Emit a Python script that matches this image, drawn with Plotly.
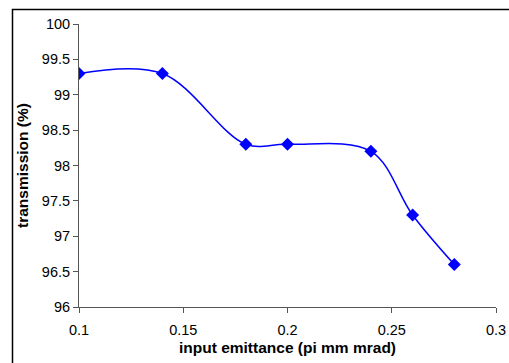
import plotly.graph_objects as go

# Transmission measured against input emittance
emittance = [0.10, 0.14, 0.18, 0.20, 0.24, 0.26, 0.28]
transmission = [99.3, 99.3, 98.3, 98.3, 98.2, 97.3, 96.6]

x_ticks = [0.1, 0.15, 0.2, 0.25, 0.3]
x_tick_text = ["0.1", "0.15", "0.2", "0.25", "0.3"]
y_ticks = [96, 96.5, 97, 97.5, 98, 98.5, 99, 99.5, 100]
y_tick_text = ["96", "96.5", "97", "97.5", "98", "98.5", "99", "99.5", "100"]

W, H = 509, 363
ml, mr, mt, mb = 79, 13, 24, 56
pw, ph = W - ml - mr, H - mt - mb

fig = go.Figure()
fig.add_trace(go.Scatter(
    x=emittance, y=transmission,
    mode="lines+markers",
    line=dict(color="#0000FF", width=1.5, shape="spline", smoothing=1),
    marker=dict(symbol="diamond", size=10, color="#0000FF"),
    showlegend=False,
))

axis_common = dict(
    showgrid=False, zeroline=False, showline=True,
    linecolor="#555555", linewidth=1,
    ticks="outside", ticklen=5, tickcolor="#555555", tickwidth=1,
    tickfont=dict(family="Arial, Liberation Sans", size=14.5, color="black"),
)
title_font = dict(family="Arial, Liberation Sans", size=15.5, color="black")

fig.update_xaxes(
    range=[0.1, 0.3], tickvals=x_ticks, ticktext=x_tick_text,
    ticklabelstandoff=5,
    title=dict(text="<b>input emittance (pi mm mrad)</b>", font=title_font,
               standoff=4),
    **axis_common,
)
fig.update_yaxes(
    range=[96, 100], tickvals=y_ticks, ticktext=y_tick_text,
    title=dict(text="<b>transmission (%)</b>", font=title_font,
               standoff=9),
    **axis_common,
)

# Outer chart frame
x0 = (12.5 - ml) / pw
y1 = (H - mb - 9.5) / ph
fig.add_shape(type="rect", xref="paper", yref="paper",
              x0=x0, x1=1.2, y0=-0.5, y1=y1,
              line=dict(color="black", width=1.5), layer="below")

fig.update_layout(
    width=W, height=H,
    margin=dict(l=ml, r=mr, t=mt, b=mb, autoexpand=False),
    plot_bgcolor="white", paper_bgcolor="white",
)

fig.write_html("out.html")
